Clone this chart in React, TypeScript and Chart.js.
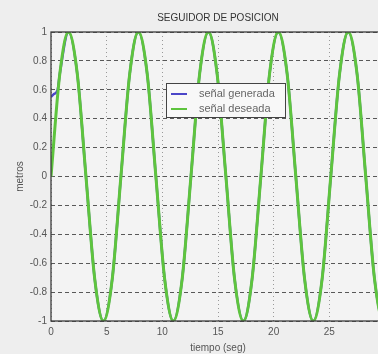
import React, { useEffect, useRef } from "react";
import { Chart, registerables } from "chart.js";

Chart.register(...registerables);

// Tiempo (s) y posición (m) de la señal deseada
const tiempo = [
  0, 0.79, 1.57, 2.36, 3.14, 3.93, 4.71, 5.5, 6.28, 7.07, 7.85, 8.64, 9.42, 10.21,
  10.99, 11.78, 12.57, 13.35, 14.14, 14.92, 15.71, 16.49, 17.28, 18.06, 18.85,
  19.63, 20.42, 21.21, 21.99, 22.78, 23.56, 24.35, 25.13, 25.92, 26.7, 27.49,
  28.27, 29.06, 29.85, 30.63,
];
const deseada = [
  0, 0.71, 1, 0.71, 0, -0.71, -1, -0.71,
  0, 0.71, 1, 0.71, 0, -0.71, -1, -0.71,
  0, 0.71, 1, 0.71, 0, -0.71, -1, -0.71,
  0, 0.71, 1, 0.71, 0, -0.71, -1, -0.71,
  0, 0.71, 1, 0.71, 0, -0.71, -1, -0.71,
];

// Señal generada: arranca desplazada y converge a la deseada
const tiempoGen = [
  0, 0.25, 0.6, 0.79, 1.57, 2.36, 3.14, 3.93, 4.71, 5.5, 6.28, 7.07, 7.85, 8.64,
  9.42, 10.21, 10.99, 11.78, 12.57, 13.35, 14.14, 14.92, 15.71, 16.49, 17.28,
  18.06, 18.85, 19.63, 20.42, 21.21, 21.99, 22.78, 23.56, 24.35, 25.13, 25.92,
  26.7, 27.49, 28.27, 29.06, 29.85, 30.63,
];
const generada = [
  0.55, 0.57, 0.6, 0.71, 1, 0.71, 0, -0.71, -1, -0.71,
  0, 0.71, 1, 0.71, 0, -0.71, -1, -0.71,
  0, 0.71, 1, 0.71, 0, -0.71, -1, -0.71,
  0, 0.71, 1, 0.71, 0, -0.71, -1, -0.71,
  0, 0.71, 1, 0.71, 0, -0.71, -1, -0.71,
];

const etiquetas = ["señal generada", "señal deseada"];
const titulo = "SEGUIDOR DE POSICION";
const ejeX = "tiempo (seg)";
const ejeY = "metros";

const FONT = "'Liberation Sans', Arial, Helvetica, sans-serif";

const fondo = {
  id: "fondo",
  beforeDraw(chart: any) {
    const { ctx, chartArea: a } = chart;
    ctx.save();
    ctx.fillStyle = "#eeeeee";
    ctx.fillRect(0, 0, chart.width, chart.height);
    ctx.fillStyle = "#f3f3f3";
    ctx.fillRect(a.left, a.top, a.right - a.left, a.bottom - a.top);
    ctx.restore();
  },
};

const marco = {
  id: "marco",
  afterDatasetsDraw(chart: any) {
    const { ctx, chartArea: a } = chart;
    ctx.save();
    ctx.strokeStyle = "#3c3c3c";
    ctx.lineWidth = 1.3;
    ctx.strokeRect(a.left, a.top, a.right - a.left, a.bottom - a.top);

    // leyenda dentro del área de trazado
    const x0 = a.left + 115;
    const y0 = a.top + 51;
    const w = 119;
    const h = 34;
    ctx.fillStyle = "#f8f8f8";
    ctx.fillRect(x0, y0, w, h);
    ctx.strokeStyle = "#444";
    ctx.lineWidth = 1;
    ctx.strokeRect(x0 + 0.5, y0 + 0.5, w, h);
    ctx.font = `11px ${FONT}`;
    ctx.textBaseline = "middle";
    chart.data.datasets.forEach((ds: any, i: number) => {
      const y = y0 + 11 + i * 15;
      ctx.strokeStyle = ds.borderColor;
      ctx.lineWidth = 2;
      ctx.beginPath();
      ctx.moveTo(x0 + 5, y);
      ctx.lineTo(x0 + 21, y);
      ctx.stroke();
      ctx.fillStyle = "#666";
      ctx.fillText(ds.label, x0 + 33, y);
    });
    ctx.restore();
  },
};

export default function App() {
  const ref = useRef<HTMLCanvasElement | null>(null);

  useEffect(() => {
    document.body.style.margin = "0";
    document.body.style.overflow = "hidden";
    const canvas = ref.current;
    if (!canvas) return;
    const chart = new Chart(canvas, {
      type: "line",
      data: {
        datasets: [
          {
            label: etiquetas[0],
            data: tiempoGen.map((t, i) => ({ x: t, y: generada[i] })),
            borderColor: "#4b46c8",
            borderWidth: 2.5,
            pointRadius: 0,
            cubicInterpolationMode: "monotone",
            order: 1,
          },
          {
            label: etiquetas[1],
            data: tiempo.map((t, i) => ({ x: t, y: deseada[i] })),
            borderColor: "#5ec43e",
            borderWidth: 3,
            pointRadius: 0,
            cubicInterpolationMode: "monotone",
            order: 0,
          },
        ],
      },
      options: {
        responsive: false,
        animation: false,
        layout: { padding: { left: 0, right: 15, top: 0, bottom: 0 } },
        plugins: {
          legend: { display: false },
          tooltip: { enabled: false },
          title: {
            display: true,
            text: titulo,
            fullSize: false,
            color: "#333",
            font: { family: FONT, size: 10, weight: "normal" },
            padding: { top: 12, bottom: 8 },
          },
        },
        scales: {
          x: {
            type: "linear",
            min: 0,
            max: 30,
            afterFit(s: any) {
              s.height = 33;
            },
            ticks: {
              stepSize: 5,
              padding: 5,
              color: "#555",
              font: { family: FONT, size: 10 },
              maxRotation: 0,
            },
            grid: {
              color: "#999999",
              lineWidth: 1,
              drawTicks: false,
              borderDash: [1, 3],
            },
            border: { display: false, dash: [1, 3] },
            title: {
              display: true,
              text: ejeX,
              color: "#555",
              font: { family: FONT, size: 10 },
              padding: { top: 1, bottom: 0 },
            },
          },
          y: {
            min: -1,
            max: 1,
            afterFit(s: any) {
              s.width = 51;
            },
            ticks: {
              stepSize: 0.2,
              padding: 4,
              color: "#555",
              font: { family: FONT, size: 10 },
              callback: (v: any) => String(Number(Number(v).toFixed(1))),
            },
            grid: {
              color: "#585858",
              lineWidth: 1,
              drawTicks: false,
              borderDash: [4, 3],
            },
            border: { display: false, dash: [4, 3] },
            title: {
              display: true,
              text: ejeY,
              color: "#555",
              font: { family: FONT, size: 10 },
              padding: { top: 14, bottom: 0 },
            },
          },
        },
      },
      plugins: [fondo, marco],
    } as any);
    return () => chart.destroy();
  }, []);

  return (
    <div
      style={{
        position: "fixed",
        left: 0,
        top: 0,
        width: 378,
        height: 354,
        overflow: "hidden",
        background: "#eeeeee",
      }}
    >
      <canvas ref={ref} width={400} height={354} style={{ display: "block" }} />
    </div>
  );
}
